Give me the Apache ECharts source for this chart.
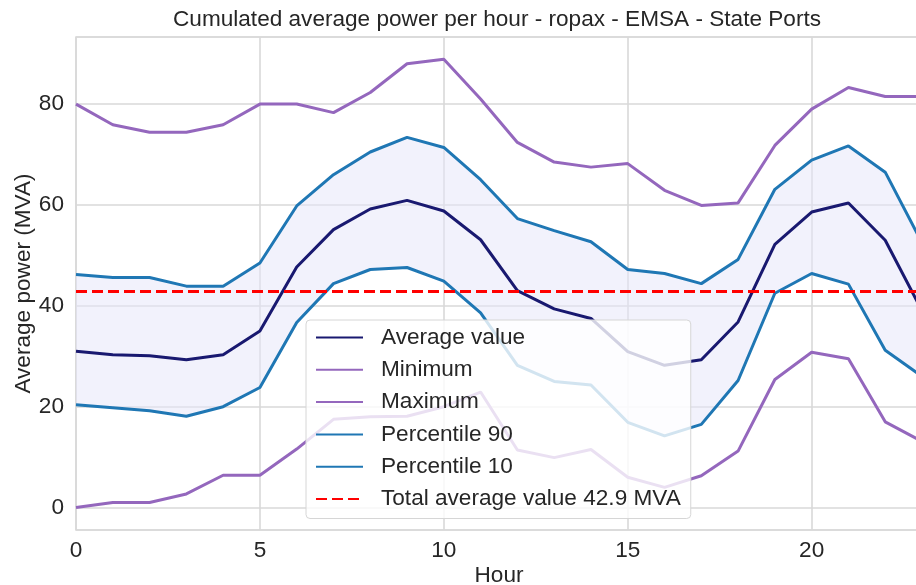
<!DOCTYPE html>
<html>
<head>
<meta charset="utf-8">
<script src="https://cdn.jsdelivr.net/npm/echarts@6/dist/echarts.min.js"></script>
<style>
  html, body { margin: 0; padding: 0; background: #ffffff; }
  #chart { width: 916px; height: 585px; }
</style>
</head>
<body>
<div id="chart"></div>
<script>
// Hour of day
const hours = [0, 1, 2, 3, 4, 5, 6, 7, 8, 9, 10, 11, 12, 13, 14, 15, 16, 17, 18, 19, 20, 21, 22, 23];

// Average power per hour (MVA)
const averageValue = [31.0, 30.3, 30.1, 29.3, 30.3, 35.0, 47.7, 55.1, 59.2, 60.9, 58.8, 53.1,
                      43.0, 39.4, 37.5, 30.9, 28.2, 29.3, 36.8, 52.2, 58.6, 60.4, 53.0, 39.0];

// Upper purple envelope (legend entry "Minimum")
const upperEnvelope = [80.0, 75.9, 74.4, 74.4, 75.9, 80.0, 80.0, 78.3, 82.3, 88.0, 88.9, 81.0,
                       72.4, 68.5, 67.5, 68.2, 62.9, 59.9, 60.4, 71.8, 79.0, 83.3, 81.5, 81.5];

// Lower purple envelope (legend entry "Maximum")
const lowerEnvelope = [0.0, 1.0, 1.0, 2.7, 6.4, 6.4, 11.6, 17.5, 18.0, 18.1, 20.0, 22.9,
                       11.4, 9.9, 11.5, 6.0, 4.0, 6.3, 11.2, 25.4, 30.8, 29.5, 17.0, 13.1];

// Percentiles
const percentile90 = [46.2, 45.6, 45.6, 43.9, 43.9, 48.5, 59.8, 66.0, 70.5, 73.4, 71.4, 65.0,
                      57.3, 54.9, 52.7, 47.2, 46.4, 44.4, 49.2, 63.1, 68.9, 71.7, 66.5, 52.5];
const percentile10 = [20.4, 19.8, 19.2, 18.1, 20.0, 23.8, 36.7, 44.4, 47.2, 47.6, 44.9, 38.6,
                      28.2, 25.0, 24.3, 16.9, 14.2, 16.5, 25.2, 42.5, 46.4, 44.3, 31.2, 26.0];

// Overall mean (MVA)
const totalAverage = 42.9;

// Y tick labels shown
const yTicks = [0, 20, 40, 60, 80];

// Band between the 10th and 90th percentiles, stacked on top of the 10th percentile
const bandWidth = percentile90.map((v, i) => +(v - percentile10[i]).toFixed(2));

const FONT = '"Liberation Sans", Arial, Helvetica, sans-serif';
const FS = 22.6;
const TEXT = '#262626';
const GRID_LINE = '#d9d9d9';
const NAVY = '#191970';
const PURPLE = '#9467bd';
const BLUE = '#1f77b4';
const LW = 3;

const chart = echarts.init(document.getElementById('chart'), null, { renderer: 'canvas' });

const totalName = 'Total average value ' + totalAverage + ' MVA';

chart.setOption({
  animation: false,
  backgroundColor: '#ffffff',
  textStyle: { fontFamily: FONT },
  title: {
    text: 'Cumulated average power per hour - ropax - EMSA - State Ports',
    left: 173,
    top: 8,
    padding: 0,
    textStyle: { fontFamily: FONT, fontSize: FS, fontWeight: 'normal', color: TEXT }
  },
  grid: {
    left: 76,
    right: -6,
    top: 37,
    bottom: 55,
    containLabel: false,
    outerBoundsMode: 'none',
    show: true,
    borderColor: GRID_LINE,
    borderWidth: 1.6,
    backgroundColor: 'transparent'
  },
  legend: {
    orient: 'vertical',
    left: 306,
    top: 320,
    padding: [6, 10, 8, 9],
    itemWidth: 47,
    itemHeight: 14,
    itemGap: 9.3,
    backgroundColor: 'rgba(255,255,255,0.8)',
    borderColor: '#d6d6d6',
    borderWidth: 1,
    borderRadius: 4,
    selectedMode: false,
    itemStyle: { opacity: 0, borderWidth: 0 },
    textStyle: {
      fontFamily: FONT,
      fontSize: FS,
      lineHeight: 22.4,
      color: TEXT,
      padding: [0, 0, 0, 13]
    },
    data: ['Average value', 'Minimum', 'Maximum', 'Percentile 90', 'Percentile 10', totalName]
  },
  xAxis: {
    type: 'category',
    data: hours,
    boundaryGap: false,
    name: 'Hour',
    nameLocation: 'middle',
    nameGap: 34,
    nameMoveOverlap: false,
    nameTextStyle: { fontFamily: FONT, fontSize: FS, color: TEXT },
    axisLine: { show: false },
    axisTick: { show: false },
    axisLabel: {
      interval: 4,
      margin: 9,
      fontFamily: FONT,
      fontSize: FS,
      color: TEXT
    },
    splitLine: { show: true, interval: 4, lineStyle: { color: GRID_LINE, width: 1.6 } }
  },
  yAxis: {
    type: 'value',
    min: -4.45,
    max: 93.3,
    splitNumber: 5,
    name: 'Average power (MVA)',
    nameLocation: 'middle',
    nameGap: 41,
    nameMoveOverlap: false,
    nameTextStyle: { fontFamily: FONT, fontSize: FS, color: TEXT },
    axisLine: { show: false },
    axisTick: { show: false },
    axisLabel: {
      margin: 12,
      fontFamily: FONT,
      fontSize: FS,
      color: TEXT,
      showMinLabel: false,
      showMaxLabel: false,
      formatter: (v) => (yTicks.indexOf(Math.round(v * 1000) / 1000) >= 0 ? String(v) : '')
    },
    splitLine: { show: true, lineStyle: { color: GRID_LINE, width: 1.6 } }
  },
  series: [
    {
      name: 'band-base',
      type: 'line',
      data: percentile10,
      stack: 'band',
      symbol: 'none',
      silent: true,
      lineStyle: { opacity: 0 },
      z: 1
    },
    {
      name: 'band-fill',
      type: 'line',
      data: bandWidth,
      stack: 'band',
      symbol: 'none',
      silent: true,
      lineStyle: { opacity: 0 },
      areaStyle: { color: 'rgba(230,230,250,0.5)', opacity: 1 },
      z: 1
    },
    {
      name: 'Average value',
      type: 'line',
      data: averageValue,
      symbol: 'none',
      lineStyle: { color: NAVY, width: LW },
      itemStyle: { color: NAVY },
      z: 3
    },
    {
      name: 'Minimum',
      type: 'line',
      data: upperEnvelope,
      symbol: 'none',
      lineStyle: { color: PURPLE, width: LW },
      itemStyle: { color: PURPLE },
      z: 3
    },
    {
      name: 'Maximum',
      type: 'line',
      data: lowerEnvelope,
      symbol: 'none',
      lineStyle: { color: PURPLE, width: LW },
      itemStyle: { color: PURPLE },
      z: 3
    },
    {
      name: 'Percentile 90',
      type: 'line',
      data: percentile90,
      symbol: 'none',
      lineStyle: { color: BLUE, width: LW },
      itemStyle: { color: BLUE },
      z: 3
    },
    {
      name: 'Percentile 10',
      type: 'line',
      data: percentile10,
      symbol: 'none',
      lineStyle: { color: BLUE, width: LW },
      itemStyle: { color: BLUE },
      z: 3
    },
    {
      name: totalName,
      type: 'line',
      data: [],
      symbol: 'none',
      lineStyle: { color: '#ff0000', width: LW, type: [11, 5] },
      itemStyle: { color: '#ff0000' },
      z: 4,
      markLine: {
        silent: true,
        symbol: 'none',
        label: { show: false },
        lineStyle: { color: '#ff0000', width: LW, type: [11, 5] },
        data: [{ yAxis: totalAverage }]
      }
    }
  ]
});
</script>
</body>
</html>
